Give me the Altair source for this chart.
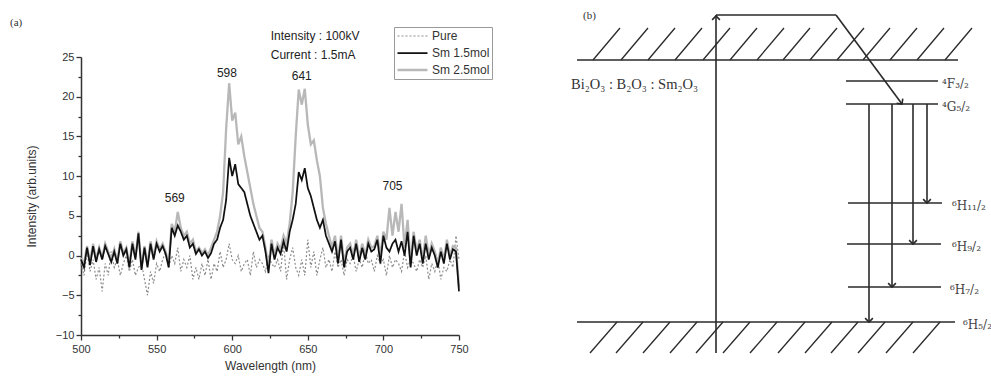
import altair as alt
import pandas as pd

# ---------------- panel (a): emission spectra ----------------
wavelength = list(range(500, 752, 2))

pure = [
    -1.0, -2.5, 0.5, -2.0, -0.5, -3.0, -1.5, -4.5, -1.0, -2.5,
    0.5, -1.5, -0.5, -2.5, -1.0, 0.0, -2.0, -0.5, -2.5, -1.5,
    -1.0, -3.0, -5.0, -2.0, -3.5, -1.0, -2.0, -0.5, 0.5, -1.5,
    0.0, -1.0, 1.0, -2.0, -0.5, -1.5, 0.0, -3.0, -1.5, -3.0,
    -1.0, -2.5, -0.5, -3.0, -1.0, -2.0, 0.5, -1.5, -0.5, 1.5,
    -0.5, -1.0, 0.0, -2.0, -1.0, -0.5, -2.5, 0.5, -1.5, -0.5,
    -1.0, -2.0, 0.0, -1.0, -1.5, -0.5, -2.0, 1.5, -3.0, -0.5,
    1.0, -1.5, -2.5, -0.5, -2.5, 2.0, -1.5, 0.5, -2.5, -0.5,
    1.0, -1.5, -0.5, -2.0, 0.5, -1.5, -0.5, -2.5, -0.5, -1.0,
    0.0, -2.0, -0.5, -1.5, 0.5, -1.0, -0.5, -2.0, 0.0, -1.0,
    -0.5, -2.5, 0.0, -1.5, -0.5, -1.0, -2.0, 0.5, -1.5, -0.5,
    -1.0, -2.0, -0.5, -1.5, 0.0, -3.0, -1.0, -2.0, -0.5, -3.0,
    -1.5, -2.0, -0.5, -1.5, 2.5, -0.5,
]

sm_15 = [
    -0.5, -1.5, 1.0, -1.2, 1.2, -0.8, 0.8, -0.5, 1.2, 0.2,
    -0.8, 0.5, -1.0, 1.5, 0.0, 0.8, -1.5, 1.5, -0.5, 2.8,
    -1.8, 1.0, -1.5, 1.5, -0.5, 1.5, 0.5, 1.2, 0.2, -1.5,
    3.5, 2.5, 3.8, 3.0, 2.0, 2.5, 1.0, 1.5, 0.2, 0.8,
    0.0, 0.5, -0.3, 0.3, 1.5, 2.0, 3.5, 4.5, 7.0, 12.3,
    10.0, 11.5, 9.0, 8.5, 8.0, 6.5, 5.0, 4.0, 3.0, 2.0,
    2.5, 0.5, -2.2, 1.5, -0.5, 1.0, 0.2, 1.8, 0.5, 3.0,
    4.5, 6.5, 10.5, 9.5, 11.0, 8.5, 7.5, 6.0, 4.5, 3.5,
    4.5, 2.5, 1.5, 0.5, 1.8, -1.0, 2.0, -1.5, 0.5, 1.0,
    -0.5, 1.5, -0.8, 1.0, -0.5, 1.5, 0.5, 0.8, 2.0, -1.0,
    2.5, 1.0, 0.5, 1.5, 2.0, 0.5, 1.8, 0.0, 3.0, -1.5,
    2.5, 0.0, 1.5, -1.0, 1.5, -0.5, 1.0, 0.0, -1.5, 0.5,
    -1.0, 1.5, -0.5, 0.8, 0.5, -4.5,
]

sm_25 = [
    -0.3, -1.0, 1.2, -0.8, 1.5, -0.5, 1.0, -0.3, 1.5, 0.5,
    -0.5, 0.8, -0.8, 1.8, 0.3, 1.0, -1.2, 1.8, -0.2, 3.0,
    -1.5, 1.2, -1.2, 1.8, -0.2, 1.8, 0.8, 1.5, 0.5, -1.0,
    4.0, 3.0, 5.5, 3.5, 2.5, 3.0, 1.5, 2.0, 0.5, 1.0,
    0.3, 0.8, 0.0, 1.0, 2.0, 3.0, 5.0, 8.0, 16.0, 21.7,
    17.0, 18.0, 14.0, 15.0, 12.5, 10.5, 8.5, 6.5, 5.0, 3.5,
    3.0, 1.0, -1.5, 2.0, 0.0, 1.5, 0.8, 2.5, 1.5, 4.0,
    8.0, 15.0, 20.9, 19.0, 21.0, 16.5, 14.0, 14.5, 12.0, 10.0,
    6.0, 4.0, 2.5, 1.0, 2.5, -0.5, 2.5, -1.0, 1.0, 1.5,
    0.0, 2.0, -0.3, 1.5, 0.0, 2.0, 1.0, 1.2, 2.5, 0.0,
    3.0, 2.0, 6.0, 2.5, 5.5, 3.0, 6.5, 1.0, 4.5, -1.0,
    3.0, 0.5, 2.0, -0.5, 2.5, 0.0, 1.5, 0.5, -1.0, 1.0,
    -0.5, 2.0, 0.0, 1.2, 1.0, -4.0,
]

series_names = ["Pure", "Sm 1.5mol", "Sm 2.5mol"]
draw_order = ["Pure", "Sm 2.5mol", "Sm 1.5mol"]

peak_text = ["569", "598", "641", "705"]
peak_wl = [562, 596.5, 646, 706]
peak_val = [7.3, 23.0, 22.6, 8.8]

cond_text = ["Intensity : 100kV", "Current : 1.5mA"]
cond_wl = [625.5, 625.5]
cond_val = [27.6, 25.3]

y_ticks = [-10, -7.5, -5, -2.5, 0, 2.5, 5, 7.5, 10, 12.5, 15, 17.5, 20, 22.5, 25]
x_ticks = [500, 525, 550, 575, 600, 625, 650, 675, 700, 725, 750]

# ---------------- panel (b): energy level diagram ----------------
level_names = ["⁴F₃/₂", "⁴G₅/₂", "⁶H₁₁/₂", "⁶H₉/₂", "⁶H₇/₂", "⁶H₅/₂"]
level_energy = [301, 278, 179, 138, 95, 60]
level_x0 = [846, 846, 848, 847, 848, 577]
level_x1 = [938, 938, 942, 941, 941, 955]
level_label_x = [942, 942, 952, 952, 950, 963]

band_energy = 322
band_x0, band_x1 = 577, 958
top_hatch_x = [593, 621, 648, 675, 703, 730, 757, 783, 810, 837, 863, 890, 917, 945]
bottom_hatch_x = [617, 643, 670, 697, 723, 750, 777, 805, 832, 858, 885, 913, 940]
hatch_dx, hatch_dy = 27, 32

excite_x = 716
excite_bottom = 29
excite_top = 367
relax_x = 836
relax_end_x = 902

emission_x = [869, 892, 913, 927]
emission_to = [60, 95, 138, 179]

composition = "Bi₂O₃ : B₂O₃ : Sm₂O₃"

# ---------------- build tables ----------------
rows = []
for name, vals in zip(series_names, [pure, sm_15, sm_25]):
    for w, v in zip(wavelength, vals):
        rows.append({"series": name, "wl": w, "val": v})
spec = pd.DataFrame(rows)

xa = alt.Scale(domain=[500, 750], nice=False, zero=False)
ya = alt.Scale(domain=[-10, 25], nice=False, zero=False)

leg = alt.Legend(
    title=None, orient="none", legendX=313, legendY=-30,
    strokeColor="#9a9a9a", padding=2, symbolType="stroke", symbolSize=900,
    labelFont="Liberation Sans", labelFontSize=12, labelColor="#333",
    rowPadding=3, labelOffset=3, fillColor="white", clipHeight=14,
)
color = alt.Color("series:N", scale=alt.Scale(domain=series_names,
                  range=["#8c8c8c", "#111111", "#b8b8b8"]), legend=leg)
dash = alt.StrokeDash("series:N", scale=alt.Scale(domain=series_names,
                      range=[[2, 2], [1, 0], [1, 0]]), legend=leg)
width = alt.StrokeWidth("series:N", scale=alt.Scale(domain=series_names,
                        range=[1.2, 2.3, 1.0]), legend=leg)

x_axis = alt.Axis(values=x_ticks, title="Wavelength (nm)", format="d",
                  labelExpr="datum.value % 50 == 0 ? datum.label : ''",
                  tickSize={"condition": {"test": "datum.value % 50 != 0", "value": 3}, "value": 5},
                  labelPadding=3, titlePadding=6, labelOverlap=False, labelFlush=False)
y_axis = alt.Axis(values=y_ticks, title="Intensity (arb.units)",
                  labelExpr="datum.value % 5 == 0 ? datum.label : ''",
                  tickSize={"condition": {"test": "datum.value % 5 != 0", "value": 3}, "value": 5},
                  labelPadding=2, titlePadding=17, labelOverlap=False, labelFlush=False)

X = alt.X("wl:Q", scale=xa, axis=x_axis)
Y = alt.Y("val:Q", scale=ya, axis=y_axis)

line_layers = []
for name in draw_order:
    line_layers.append(
        alt.Chart(spec).transform_filter(alt.datum.series == name)
        .mark_line(strokeJoin="miter")
        .encode(x=X, y=Y, color=color, strokeDash=dash, strokeWidth=width)
    )

peaks = pd.DataFrame({"wl": peak_wl, "val": peak_val, "label": peak_text})
peak_layer = alt.Chart(peaks).mark_text(font="Liberation Sans", fontSize=12, color="#222").encode(
    x=X, y=Y, text="label:N")

conds = pd.DataFrame({"wl": cond_wl, "val": cond_val, "label": cond_text})
cond_layer = alt.Chart(conds).mark_text(font="Liberation Sans", fontSize=12, color="#222",
                                        align="left").encode(x=X, y=Y, text="label:N")

panel_a = alt.layer(*line_layers, peak_layer, cond_layer)

# ---------------- panel (b) layers ----------------
xb = alt.Scale(domain=[0, 991], range=[-81, 910], nice=False, zero=False)
yb = alt.Scale(domain=[0, 382], range=[325, -57], nice=False, zero=False)
XB = alt.X("x:Q", scale=xb, axis=None)
YB = alt.Y("y:Q", scale=yb, axis=None)

segs = []
segs.append((band_x0, band_energy, band_x1, band_energy, 1.6))
for hx in top_hatch_x:
    segs.append((hx, band_energy, hx + hatch_dx, band_energy + hatch_dy, 1.3))
segs.append((level_x0[-1], level_energy[-1], level_x1[-1], level_energy[-1], 1.6))
for hx in bottom_hatch_x:
    segs.append((hx, level_energy[-1], hx - hatch_dx, level_energy[-1] - hatch_dy + 1, 1.3))
for i in range(len(level_names) - 1):
    segs.append((level_x0[i], level_energy[i], level_x1[i], level_energy[i], 1.6))
segs.append((excite_x, excite_bottom, excite_x, excite_top, 1.6))
segs.append((excite_x, excite_top, relax_x, excite_top, 1.6))
segs.append((relax_x, excite_top, relax_end_x, level_energy[1], 1.6))
for ex, et in zip(emission_x, emission_to):
    segs.append((ex, level_energy[1], ex, et, 1.6))
seg_df = pd.DataFrame(segs, columns=["x", "y", "x2", "y2", "w"])

seg_layer = alt.Chart(seg_df).mark_rule(color="#2a2a2a").encode(
    x=XB, y=YB, x2="x2:Q", y2="y2:Q",
    strokeWidth=alt.StrokeWidth("w:Q", scale=None, legend=None))

heads = [(excite_x, excite_top - 1, 180), (relax_end_x, level_energy[1], 323)]
for ex, et in zip(emission_x, emission_to):
    heads.append((ex, et, 0))
head_df = pd.DataFrame(heads, columns=["x", "y", "angle"])
head_layer = alt.Chart(head_df).mark_point(
    shape="M -1 -1 L 0 0 L 1 -1", filled=False, color="#2a2a2a", strokeWidth=1.6, size=60, opacity=1
).encode(x=XB, y=YB, angle=alt.Angle("angle:Q", scale=None))

lab_df = pd.DataFrame({"x": level_label_x, "y": [e - 3 for e in level_energy], "label": level_names})
lab_layer = alt.Chart(lab_df).mark_text(font="DejaVu Serif", fontSize=12, color="#444",
                                        align="left", baseline="middle").encode(
    x=XB, y=YB, text="label:N")

misc_df = pd.DataFrame({"x": [571, 10, 583], "y": [297, 359, 366],
                        "label": [composition, "(a)", "(b)"], "size": [14.5, 11, 11]})
misc_layer = alt.Chart(misc_df).mark_text(font="Liberation Serif", color="#333",
                                          align="left", baseline="middle").encode(
    x=XB, y=YB, text="label:N",
    size=alt.Size("size:Q", scale=None, legend=None))

panel_b = alt.layer(seg_layer, head_layer, lab_layer, misc_layer)

chart = (
    alt.layer(panel_a, panel_b)
    .resolve_scale(x="independent", y="independent")
    .properties(width=378, height=278,
                autosize=alt.AutoSizeParams(type="none"),
                padding={"left": 81, "top": 57, "right": 532, "bottom": 47})
    .configure_view(stroke=None)
    .configure_axis(grid=False, domainColor="#333", domainWidth=1.5, tickColor="#333",
                    tickWidth=1.3, labelFont="Liberation Sans", labelFontSize=11,
                    labelColor="#333", titleFont="Liberation Sans", titleFontSize=12,
                    titleFontWeight="normal", titleColor="#333")
)

chart.save("out.html", embed_options={"renderer": "svg", "actions": False})
